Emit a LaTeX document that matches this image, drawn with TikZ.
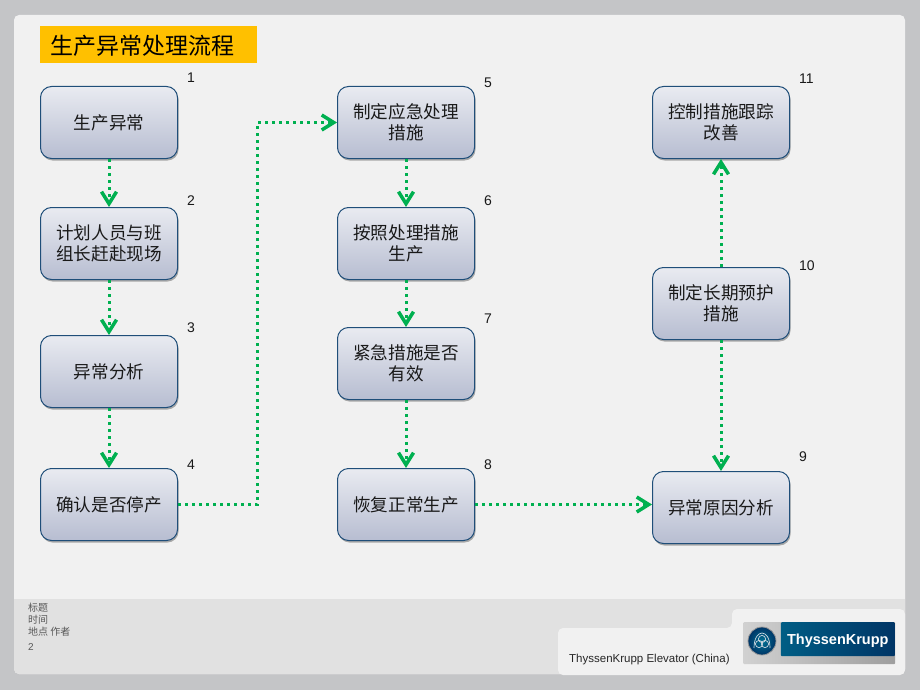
\documentclass[tikz,border=0pt]{standalone}
\usepackage{fontspec}
\setmainfont{Liberation Sans}
\newfontfamily\cjk{Noto Sans CJK SC}
\usetikzlibrary{arrows.meta,positioning,shadows}
\definecolor{pagegray}{HTML}{C4C5C7}
\definecolor{panelgray}{HTML}{F1F1F1}
\definecolor{bandgray}{HTML}{E1E1E1}
\definecolor{titlegold}{HTML}{FFC000}
\definecolor{flowgreen}{HTML}{00B050}
\definecolor{boxedge}{HTML}{1F4E79}
\definecolor{boxtop}{HTML}{E9EBF1}
\definecolor{boxbottom}{HTML}{B7BDD1}
\definecolor{logoblue}{HTML}{003566}

\begin{document}
\begin{tikzpicture}[x=1pt,y=-1pt,
  flow/.style={draw=boxedge,line width=1pt,rounded corners=11pt,top color=boxtop,bottom color=boxbottom,
    drop shadow={shadow xshift=1pt,shadow yshift=-2pt,opacity=.3,fill=black},
    align=center,minimum width=137pt,minimum height=72pt,inner sep=0pt,font=\cjk\fontsize{17.6}{21}\selectfont,text=black!90},
  num/.style={inner sep=0pt,font=\fontsize{14}{14}\selectfont,text=black!90},
  link/.style={draw=flowgreen,line width=3pt,dash pattern=on 3pt off 4pt,-{Straight Barb[length=12pt,width=15pt,line width=3.5pt]}},
  foot/.style={inner sep=0pt,anchor=west,font=\cjk\fontsize{10}{10}\selectfont,text=black!65}]
  \useasboundingbox (0,0) rectangle (920,690);
  % page and footer
  \fill[pagegray] (0,0) rectangle (920,690);
  \fill[panelgray,rounded corners=5pt] (14,15) rectangle (905,674);
  \fill[bandgray,rounded corners=5pt] (14,585) rectangle (905,674);
  \fill[panelgray] (14,575) rectangle (905,599);
  \fill[panelgray,rounded corners=5pt] (558,675) -- (558,628) -- (732,628) -- (732,609) -- (905,609) -- (905,675) -- cycle;
  % title
  \node[fill=titlegold,minimum width=217pt,minimum height=37pt,inner sep=0pt,anchor=north west] (title) at (40,26) {};
  \node[inner sep=0pt,anchor=west,font=\cjk\fontsize{23}{23}\selectfont] (titletext) at (50,46) {生产异常处理流程};
  % left column
  \node[flow,anchor=north west] (n1) at (40,86) {生产异常};
  \node[flow,below=48pt of n1] (n2) {计划人员与班\\组长赶赴现场};
  \node[flow,below=55pt of n2] (n3) {异常分析};
  \node[flow,below=60pt of n3] (n4) {确认是否停产};
  % middle column
  \node[flow,anchor=north west] (n5) at (337,86) {制定应急处理\\措施};
  \node[flow,below=48pt of n5] (n6) {按照处理措施\\生产};
  \node[flow,below=47pt of n6] (n7) {紧急措施是否\\有效};
  \node[flow,below=68pt of n7] (n8) {恢复正常生产};
  % right column
  \node[flow,anchor=north west] (n11) at (652,86) {控制措施跟踪\\改善};
  \node[flow,below=108pt of n11] (n10) {制定长期预护\\措施};
  \node[flow,below=131pt of n10] (n9) {异常原因分析};
  % step numbers
  \node[num,above right=3pt and 9pt of n1.north east] (num1) {1};
  \node[num,above right=1pt and 9pt of n2.north east] (num2) {2};
  \node[num,above right=2pt and 9pt of n3.north east] (num3) {3};
  \node[num,above right=-2pt and 9pt of n4.north east] (num4) {4};
  \node[num,above right=-2pt and 9pt of n5.north east] (num5) {5};
  \node[num,above right=1pt and 9pt of n6.north east] (num6) {6};
  \node[num,above right=3pt and 9pt of n7.north east] (num7) {7};
  \node[num,above right=-2pt and 9pt of n8.north east] (num8) {8};
  \node[num,above right=9pt and 9pt of n9.north east] (num9) {9};
  \node[num,above right=-4pt and 9pt of n10.north east] (num10) {10};
  \node[num,above right=2pt and 9pt of n11.north east] (num11) {11};
  % connectors
  \draw[link] (n1) -- (n2);
  \draw[link] (n2) -- (n3);
  \draw[link] (n3) -- (n4);
  \coordinate (bend) at (257,504);
  \draw[link] (n4.east) -- (n4.east -| bend) |- (n5.west);
  \draw[link] (n5) -- (n6);
  \draw[link] (n6) -- (n7);
  \draw[link] (n7) -- (n8);
  \draw[link] (n8.east) -- (n8.east -| n9.west);
  \draw[link] (n10) -- (n9);
  \draw[link] (n10) -- (n11);
  % footer text
  \node[foot] (ftitle) at (28,608) {标题};
  \node[foot] (ftime) at (28,620) {时间};
  \node[foot] (fplace) at (28,632) {地点 作者};
  \node[foot,font=\fontsize{10}{10}\selectfont] (fpage) at (28,647) {2};
  \node[inner sep=0pt,anchor=west,font=\fontsize{11.5}{12}\selectfont,text=black!85] (company) at (569,660) {ThyssenKrupp Elevator (China)};
  % logo
  \node[minimum width=152pt,minimum height=42pt,inner sep=0pt,anchor=north west,left color=black!18,right color=black!38,rounded corners=1pt] (logo) at (743,622) {};
  \node[minimum width=114pt,minimum height=34pt,inner sep=0pt,anchor=north east,left color=logoblue!80!cyan,right color=logoblue,rounded corners=1pt,text=white,text depth=0pt,font=\bfseries\fontsize{14.5}{15}\selectfont] (logoname) at (895,622) {ThyssenKrupp};
  \node[circle,minimum size=28pt,inner sep=0pt,inner color=logoblue!70!cyan,outer color=logoblue,draw=black!40,line width=.8pt] (crest) at (762,641) {};
  \begin{scope}[shift={(crest.center)},draw=white!80!logoblue,line width=.7pt]
    \draw (-8,7) .. controls (-8,-13) and (8,-13) .. (8,7);
    \draw (-3,3) circle (3.6pt);
    \draw (3,3) circle (3.6pt);
    \draw (0,-2) circle (3.6pt);
  \end{scope}
\end{tikzpicture}
\end{document}
